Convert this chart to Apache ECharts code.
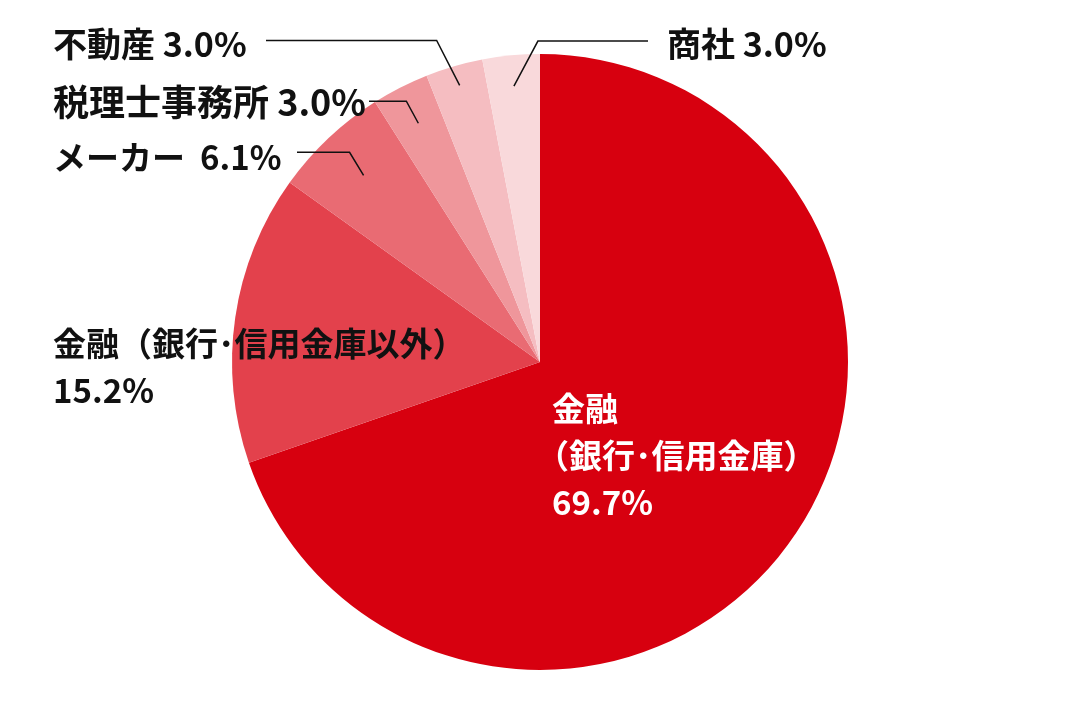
<!DOCTYPE html>
<html>
<head>
<meta charset="utf-8">
<title>取引先業種</title>
<script src="https://cdn.jsdelivr.net/npm/echarts@6/dist/echarts.min.js"></script>
<style>
  html, body { margin: 0; padding: 0; background: #fff; }
  #chart { width: 1080px; height: 726px; }
</style>
</head>
<body>
<div id="chart"></div>
<script>
// データ
var categories = ['金融（銀行・信用金庫）', '金融（銀行・信用金庫以外）', 'メーカー', '税理士事務所', '不動産', '商社'];
var labelNames = ['金融\n（銀行･信用金庫）', '金融（銀行･信用金庫以外）', 'メーカー', '税理士事務所', '不動産', '商社'];
var shares = [69.7, 15.2, 6.1, 3.0, 3.0, 3.0];

// 色・ラベル配置 (見た目だけ)
var colors = ['#d7000f', '#e3414c', '#e96b73', '#ef969b', '#f5bdc1', '#f9d9db'];
var FONT = '"Noto Sans CJK JP", "Noto Sans", sans-serif';
var labelPlace = [
    { x: 536, y: 385, size: 33, sep: '\n', color: '#fff', indent: 16 },
    { x: 53, y: 320, size: 33, sep: '\n' },
    { x: 53, y: 157, size: 33, sep: '  ', mid: true, rr: 0.834, ex: -14, ey: -23, endX: 297 },
    { x: 53, y: 102, size: 36, sep: ' ', mid: true, rr: 0.87, ex: -12, ey: -22, endX: 369 },
    { x: 53, y: 44, size: 34, sep: ' ', mid: true, rr: 0.935, ex: -23, ey: -45, endX: 266 },
    { x: 667, y: 44, size: 34, sep: ' ', mid: true, rr: 0.9, ex: 24, ey: -45, endX: 648 }
];

var chart = echarts.init(document.getElementById('chart'));

// 塗りの円
var fillData = categories.map(function (name, i) {
    return { name: name, value: shares[i], itemStyle: { color: colors[i] } };
});

// ラベル用の透明な円 (引き出し線を塗りの上に描くため z を上げる)
var labelData = categories.map(function (name, i) {
    var p = labelPlace[i];
    var txtColor = p.color || '#111';
    return {
        name: name,
        value: shares[i],
        label: {
            show: true,
            position: i === 0 ? 'inside' : 'outside',
            color: txtColor,
            fontSize: p.size,
            rich: {
                ind: {
                    padding: [0, 0, 0, p.indent || 0],
                    color: txtColor,
                    fontFamily: FONT,
                    fontWeight: 'bold',
                    fontSize: p.size,
                    lineHeight: 47
                }
            }
        },
        labelLine: { show: !!p.mid, showAbove: true, lineStyle: { color: '#111', width: 1.5 } }
    };
});

var option = {
    backgroundColor: '#fff',
    animation: false,
    series: [{
        type: 'pie',
        z: 2,
        center: [540, 362],
        radius: 308,
        startAngle: 90,
        clockwise: true,
        silent: true,
        label: { show: false },
        labelLine: { show: false },
        data: fillData
    }, {
        type: 'pie',
        z: 5,
        center: [540, 362],
        radius: 308,
        startAngle: 90,
        clockwise: true,
        silent: true,
        avoidLabelOverlap: false,
        itemStyle: { color: 'rgba(0,0,0,0)', borderWidth: 0 },
        data: labelData,
        label: {
            fontFamily: FONT,
            fontWeight: 'bold',
            fontSize: 33,
            lineHeight: 47,
            formatter: function (p) {
                var i = p.dataIndex;
                var lines = (labelNames[i] + labelPlace[i].sep + shares[i].toFixed(1) + '%').split('\n');
                if (labelPlace[i].indent) {
                    lines = lines.map(function (s) {
                        return s.charAt(0) === '（' ? s : '{ind|' + s + '}';
                    });
                }
                return lines.join('\n');
            }
        },
        labelLine: { showAbove: true },
        labelLayout: function (params) {
            var i = params.dataIndex;
            var p = labelPlace[i];
            var res = { x: p.x, y: p.y, align: 'left', verticalAlign: p.mid ? 'middle' : 'top' };
            if (p.mid) {
                var lay = chart.getModel().getSeriesByIndex(params.seriesIndex).getData().getItemLayout(i);
                var a = (lay.startAngle + lay.endAngle) / 2;
                var sx = lay.cx + lay.r * p.rr * Math.cos(a);
                var sy = lay.cy + lay.r * p.rr * Math.sin(a);
                var kx = sx + p.ex, ky = sy + p.ey;
                res.labelLinePoints = [[sx, sy], [kx, ky], [p.endX, ky]];
            }
            return res;
        }
    }]
};

chart.setOption(option);
</script>
</body>
</html>
